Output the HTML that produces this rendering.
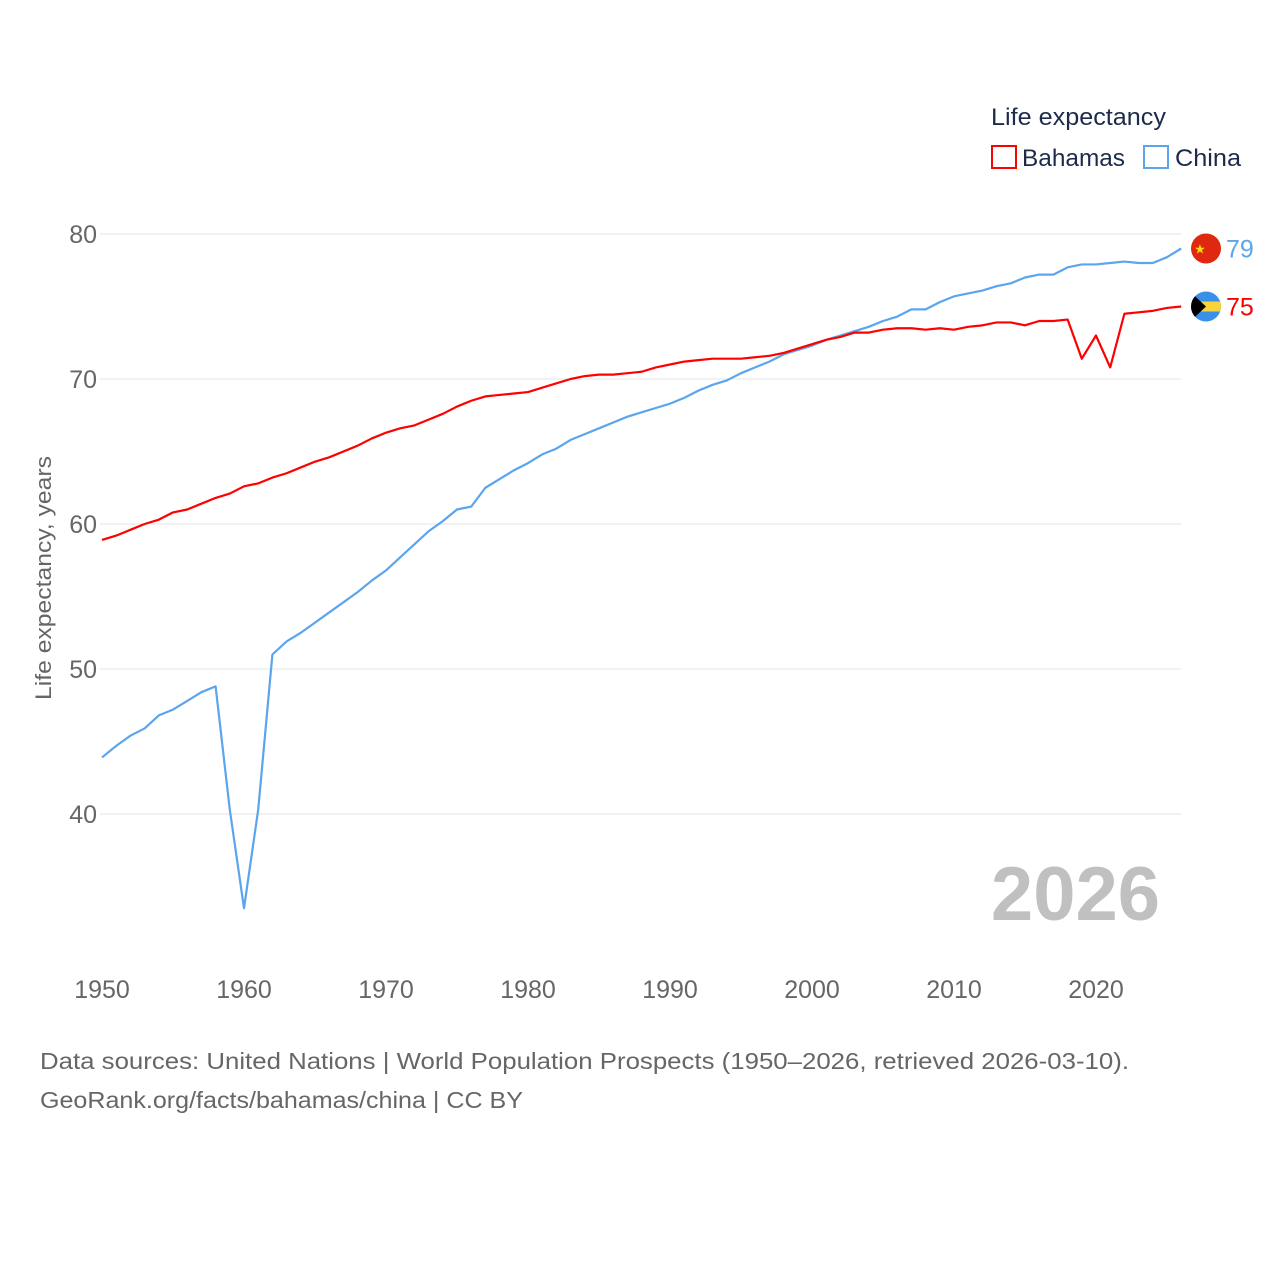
<!DOCTYPE html>
<html><head><meta charset="utf-8"><style>
body{margin:0;background:#fff;}
svg{display:block;font-family:"Liberation Sans",sans-serif;}
</style></head><body>
<svg width="1280" height="1280" viewBox="0 0 1280 1280">
<g id="grid"></g>
<g id="xticks"></g>
<text x="51" y="578" transform="rotate(-90 51 578)" text-anchor="middle" font-size="22" textLength="244" lengthAdjust="spacingAndGlyphs" fill="#666">Life expectancy, years</text>
<text x="1160" y="920" text-anchor="end" font-size="76" font-weight="bold" fill="#c0c0c0">2026</text>
<g>
<text x="991" y="125" font-size="24" textLength="175" lengthAdjust="spacingAndGlyphs" fill="#1d2b4a">Life expectancy</text>
<g><rect x="992" y="146" width="24" height="22" fill="none" stroke="#f00" stroke-width="2"/><text x="1022" y="166" font-size="24" textLength="103" lengthAdjust="spacingAndGlyphs" fill="#1d2b4a">Bahamas</text></g>
<g><rect x="1144" y="146" width="24" height="22" fill="none" stroke="#5aa5ee" stroke-width="2"/><text x="1175" y="166" font-size="24" textLength="66" lengthAdjust="spacingAndGlyphs" fill="#1d2b4a">China</text></g>
</g>
<g id="series"></g>
<g id="ends"></g>
<text x="40" y="1069" font-size="23" textLength="1089" lengthAdjust="spacingAndGlyphs" fill="#666">Data sources: United Nations | World Population Prospects (1950–2026, retrieved 2026-03-10).</text>
<text x="40" y="1108" font-size="23" textLength="483" lengthAdjust="spacingAndGlyphs" fill="#666">GeoRank.org/facts/bahamas/china | CC BY</text>
</svg>
<script>
const years = Array.from({length:77},(_,i)=>1950+i);
const china = [43.9,44.7,45.4,45.9,46.8,47.2,47.8,48.4,48.8,40.3,33.5,40.3,51.0,51.9,52.5,53.2,53.9,54.6,55.3,56.1,56.8,57.7,58.6,59.5,60.2,61.0,61.2,62.5,63.1,63.7,64.2,64.8,65.2,65.8,66.2,66.6,67.0,67.4,67.7,68.0,68.3,68.7,69.2,69.6,69.9,70.4,70.8,71.2,71.7,72.0,72.3,72.7,73.0,73.3,73.6,74.0,74.3,74.8,74.8,75.3,75.7,75.9,76.1,76.4,76.6,77.0,77.2,77.2,77.7,77.9,77.9,78.0,78.1,78.0,78.0,78.4,79.0];
const bahamas = [58.9,59.2,59.6,60.0,60.3,60.8,61.0,61.4,61.8,62.1,62.6,62.8,63.2,63.5,63.9,64.3,64.6,65.0,65.4,65.9,66.3,66.6,66.8,67.2,67.6,68.1,68.5,68.8,68.9,69.0,69.1,69.4,69.7,70.0,70.2,70.3,70.3,70.4,70.5,70.8,71.0,71.2,71.3,71.4,71.4,71.4,71.5,71.6,71.8,72.1,72.4,72.7,72.9,73.2,73.2,73.4,73.5,73.5,73.4,73.5,73.4,73.6,73.7,73.9,73.9,73.7,74.0,74.0,74.1,71.4,73.0,70.8,74.5,74.6,74.7,74.9,75.0];
const yTicks = [40,50,60,70,80];
const xTicks = [1950,1960,1970,1980,1990,2000,2010,2020];
const NS="http://www.w3.org/2000/svg";
const X = y => 102 + (y-1950)*994/70;
const Y = v => 234 + (80-v)*14.5;
function mk(tag, attrs, parent){const e=document.createElementNS(NS,tag);for(const k in attrs)e.setAttribute(k,attrs[k]);parent.appendChild(e);return e;}
const grid=document.getElementById('grid');
yTicks.forEach(t=>{
  const l=mk('line',{x1:100,x2:1181,y1:Y(t),y2:Y(t),stroke:'#e6e6e6','stroke-width':1},grid);
  
  
  const tx=mk('text',{x:97,y:Y(t)+9,'text-anchor':'end','font-size':25,fill:'#666'},grid);
  tx.textContent=t;
  
  
});
const xt=document.getElementById('xticks');
xTicks.forEach(t=>{
  const tx=mk('text',{x:X(t),y:998,'text-anchor':'middle','font-size':25,fill:'#666'},xt);
  tx.textContent=t;
  
  
});
const ser=document.getElementById('series');
function line(data,color,name){
  const p=mk('polyline',{points:data.map((v,i)=>X(years[i])+','+Y(v)).join(' '),fill:'none',stroke:color,'stroke-width':2.2,'stroke-linejoin':'round'},ser);
  
  
}
line(china,'#5aa5ee','china-line');
line(bahamas,'#f00','bahamas-line');
const ends=document.getElementById('ends');
const cy=Y(china[china.length-1]), by=Y(bahamas[bahamas.length-1]);
const cf=mk('g',{},ends);


mk('circle',{cx:1206,cy:cy,r:15,fill:'#de2910'},cf);
mk('text',{x:1200,y:cy+5,'text-anchor':'middle','font-size':13,fill:'#ffde00'},cf).textContent='★';
const ct=mk('text',{x:1226,y:cy+9,'font-size':25,fill:'#5aa5ee'},ends);
ct.textContent=Math.round(china[china.length-1]);


const bf=mk('g',{},ends);


const cp=mk('clipPath',{id:'bc'},bf);
mk('circle',{cx:1206,cy:by,r:15},cp);
const gg=mk('g',{'clip-path':'url(#bc)'},bf);
mk('rect',{x:1190,y:by-15,width:32,height:30,fill:'#3a8fe8'},gg);
mk('rect',{x:1190,y:by-5,width:32,height:10,fill:'#f9d33a'},gg);
mk('polygon',{points:`1190,${by-15} 1206,${by} 1190,${by+15}`,fill:'#000'},gg);
const bt=mk('text',{x:1226,y:by+9,'font-size':25,fill:'#f00'},ends);
bt.textContent=Math.round(bahamas[bahamas.length-1]);


</script>
</body></html>
